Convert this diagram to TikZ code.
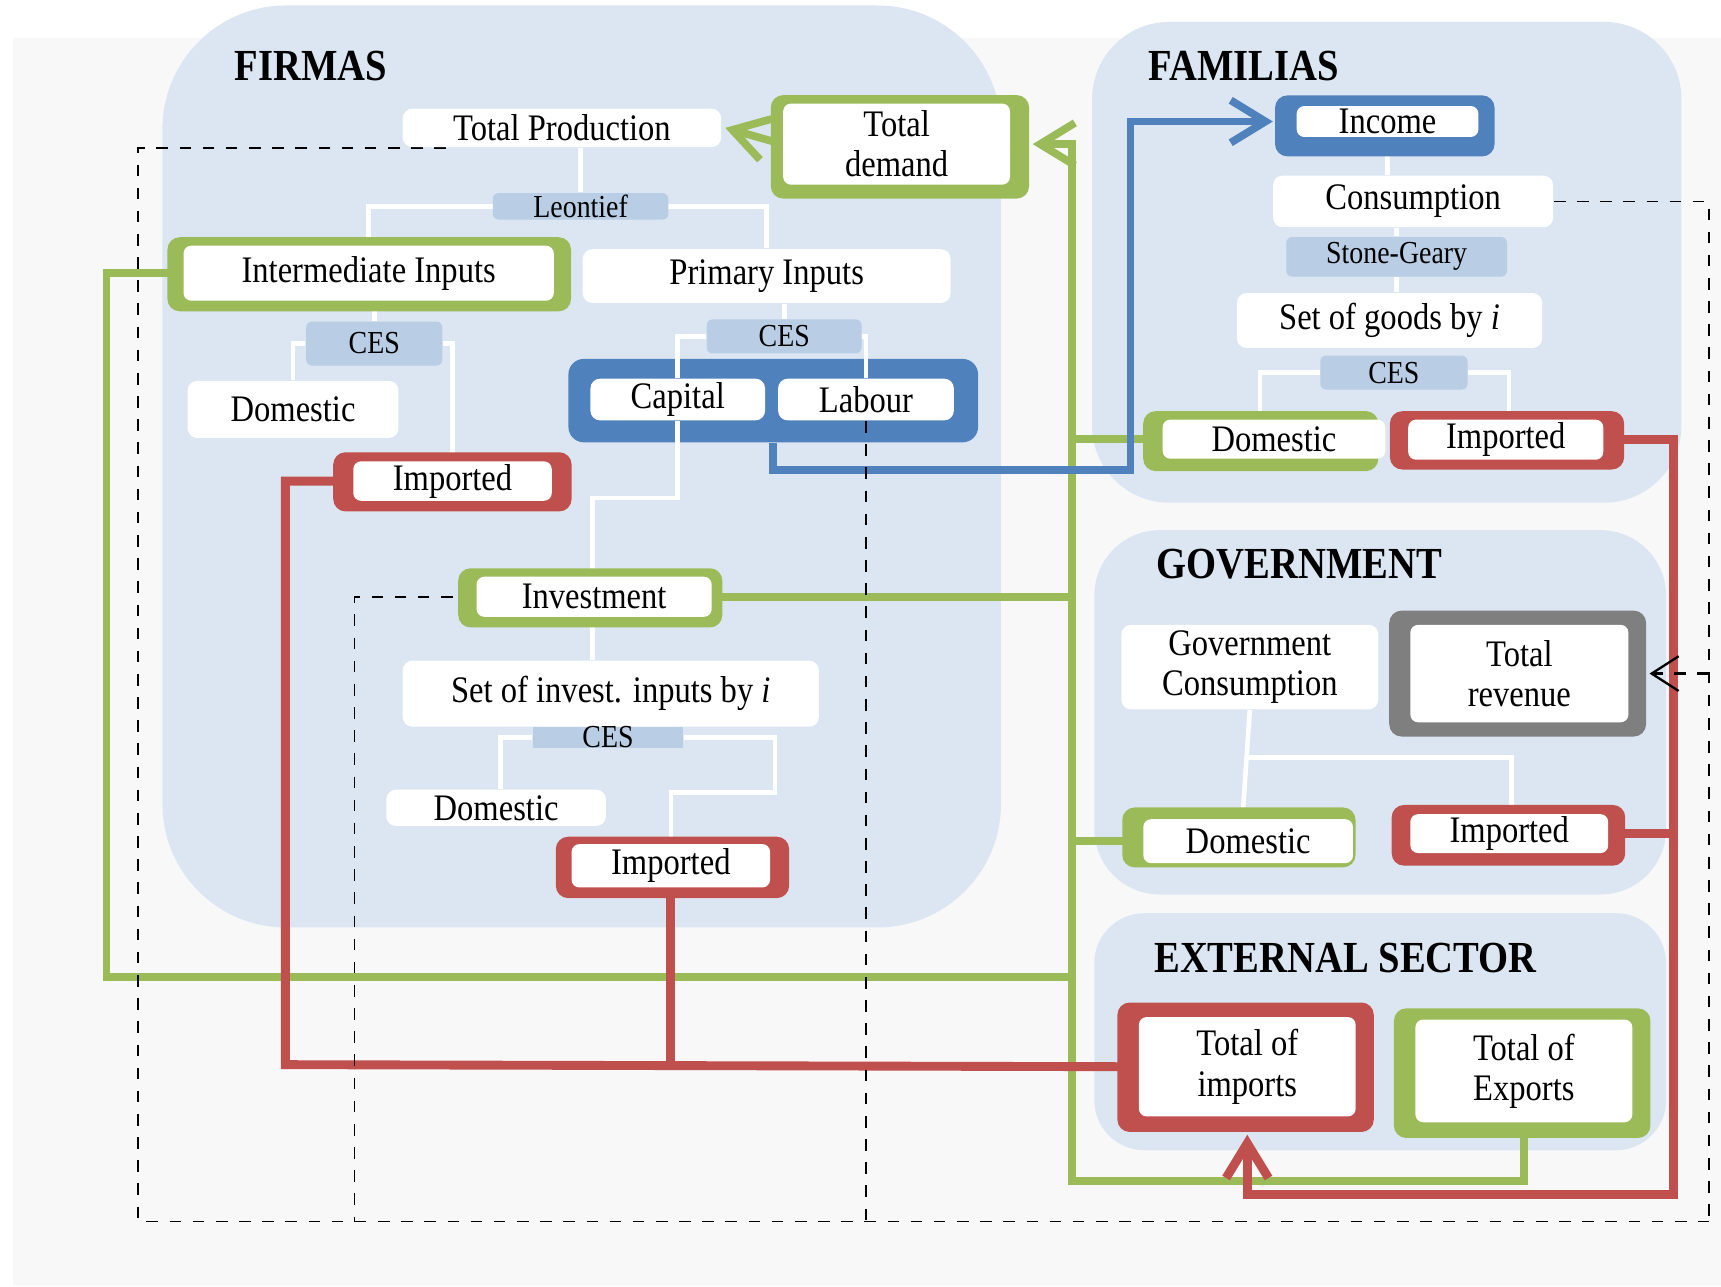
\documentclass[tikz,border=0pt]{standalone}
\usepackage{fontspec}
\setmainfont{Liberation Serif}[FakeStretch=0.87]
\usetikzlibrary{arrows.meta,calc}
\definecolor{panel}{HTML}{DCE6F2}
\definecolor{lblue}{HTML}{B9CDE5}
\definecolor{ogreen}{HTML}{9BBB59}
\definecolor{ored}{HTML}{C0504D}
\definecolor{oblue}{HTML}{4F81BD}
\definecolor{ogray}{HTML}{7F7F7F}
\definecolor{bgray}{HTML}{F8F8F8}
\pgfdeclarelayer{bg}
\pgfdeclarelayer{lines}
\pgfdeclarelayer{frames}
\pgfsetlayers{bg,lines,frames,main}
% coloured frame behind a white node: name, colour, left, top, right, bottom (px)
\newcommand\cfrm[6]{\begin{pgfonlayer}{frames}\fill[#2, rounded corners=3.2pt] ([xshift=-#3*0.01cm, yshift=#4*0.01cm]#1.north west) rectangle ([xshift=#5*0.01cm, yshift=-#6*0.01cm]#1.south east);\end{pgfonlayer}}
\begin{document}
\begin{tikzpicture}[x=0.01cm,y=-0.01cm,
  txtf/.style={font=\fontsize{9.7}{10.4}\selectfont, align=center, inner sep=0pt},
  smallf/.style={font=\fontsize{8.3}{10}\selectfont, inner sep=0pt},
  titlef/.style={font=\fontsize{11.5}{13}\selectfont\bfseries, inner sep=0pt, anchor=west},
  boxplain/.style={txtf, fill=white, rounded corners=2.5pt},
  boxin/.style={txtf, fill=white, rounded corners=2pt},
  boxlb/.style={smallf, fill=lblue, rounded corners=1.5pt},
  wline/.style={draw=white, line width=1.2pt},
  gline/.style={draw=ogreen, line width=2pt},
  rline/.style={draw=ored, line width=2.3pt},
  bline/.style={draw=oblue, line width=2pt},
  dline/.style={draw=black, line width=0.45pt, dashed},
  bigtip/.style={-{Straight Barb[length=9pt,width=11pt]}},
  thintip/.style={-{Straight Barb[length=7pt,width=9pt]}},
]
\useasboundingbox (0,0) rectangle (1568,1172);
\begin{pgfonlayer}{bg}
\fill[white] (0,0) rectangle (1568,1172);
\fill[bgray] (12,35) rectangle (1568,1172);
\fill[panel, rounded corners=32pt] (148,5) rectangle (912,845);
\fill[panel, rounded corners=20pt] (995,20) rectangle (1532,458);
\fill[panel, rounded corners=17pt] (997,483) rectangle (1518,815);
\fill[panel, rounded corners=13pt] (997,832) rectangle (1518,1048);
\node[fill=oblue, rounded corners=4pt, minimum width=3.73cm, minimum height=0.76cm, inner sep=0pt] (factors) at (704.5,365) {};
\end{pgfonlayer}

% titles
\node[titlef] (tF) at (213,60) {FIRMAS};
\node[titlef] (tH) at (1046,60) {FAMILIAS};
\node[titlef] (tG) at (1053,514) {GOVERNMENT};
\node[titlef] (tE) at (1051,873) {EXTERNAL SECTOR};

% FIRMAS
\node[boxplain, minimum width=2.90cm, minimum height=0.35cm] (totprod) at (512,116.5) {Total Production};
\node[boxin, minimum width=2.065cm, minimum height=0.738cm] (totdem) at (816.9,131.3) {Total\\demand};
\cfrm{totdem}{ogreen}{10.6}{7}{16.7}{12}
\node[boxlb, minimum width=1.60cm, minimum height=0.24cm] (leontief) at (529,188) {Leontief};
\node[boxin, minimum width=3.371cm, minimum height=0.501cm] (interm) at (335.9,248.9) {Intermediate Inputs};
\cfrm{interm}{ogreen}{14}{7}{15}{9}
\node[boxplain, minimum width=3.35cm, minimum height=0.49cm] (primary) at (698.5,251.5) {Primary Inputs};
\node[boxlb, minimum width=1.24cm, minimum height=0.40cm] (cesI) at (341,313) {CES};
\node[boxlb, minimum width=1.41cm, minimum height=0.31cm] (cesP) at (714.5,306.5) {CES};
\node[boxplain, minimum width=1.59cm, minimum height=0.38cm] (capital) at (617.5,364) {Capital};
\node[boxplain, minimum width=1.60cm, minimum height=0.38cm] (labour) at (789,364) {Labour};
\node[boxplain, minimum width=1.92cm, minimum height=0.52cm] (domF) at (267,373) {Domestic};
\node[boxin, minimum width=1.807cm, minimum height=0.359cm] (impF) at (412.3,438.3) {Imported};
\cfrm{impF}{ored}{17.6}{7.6}{17.4}{9}
\node[boxin, minimum width=2.141cm, minimum height=0.365cm] (invest) at (541.3,543.7) {Investment};
\cfrm{invest}{ogreen}{16}{7}{9}{9}
\node[boxplain, minimum width=3.79cm, minimum height=0.60cm] (setinv) at (556.5,632) {Set of invest. inputs by \textit{i}};
\node[boxlb, rounded corners=0pt, minimum width=1.37cm, minimum height=0.15cm, text height=1.2ex, text depth=0pt] (cesInv) at (554,671.8) {CES};
\node[boxplain, minimum width=2.00cm, minimum height=0.33cm] (domInv) at (452,736) {Domestic};
\node[boxin, minimum width=1.807cm, minimum height=0.395cm] (impInv) at (611.2,788.8) {Imported};
\cfrm{impInv}{ored}{13.7}{6}{16.7}{9}

% FAMILIAS
\node[boxin, minimum width=1.655cm, minimum height=0.282cm] (income) at (1264.2,110.7) {Income};
\cfrm{income}{oblue}{19}{9}{14}{17}
\node[boxplain, minimum width=2.55cm, minimum height=0.47cm] (consum) at (1287.5,183.5) {Consumption};
\node[boxlb, minimum width=2.01cm, minimum height=0.36cm] (stone) at (1272.5,234) {Stone-Geary};
\node[boxplain, minimum width=2.78cm, minimum height=0.50cm] (setgoods) at (1266,292) {Set of goods by \textit{i}};
\node[boxlb, minimum width=1.34cm, minimum height=0.31cm] (cesF) at (1270,339.5) {CES};
\node[boxin, minimum width=2.027cm, minimum height=0.356cm] (domH) at (1160.7,400.1) {Domestic};
\cfrm{domH}{ogreen}{17}{7}{-7}{10.6}
\node[boxin, minimum width=1.776cm, minimum height=0.365cm] (impH) at (1371.9,400.6) {Imported};
\cfrm{impH}{ored}{16}{7}{18.3}{8.2}

% GOVERNMENT
\node[boxplain, minimum width=2.34cm, minimum height=0.77cm] (govcons) at (1138.7,607.8) {Government\\Consumption};
\node[boxin, minimum width=1.986cm, minimum height=0.887cm] (totrev) at (1384.3,613.7) {Total\\revenue};
\cfrm{totrev}{ogray}{18.5}{12.3}{15.4}{12.3}
\node[boxin, minimum width=1.909cm, minimum height=0.40cm] (domG) at (1137.2,766.4) {Domestic};
\cfrm{domG}{ogreen}{18.5}{10}{1.6}{3.1}
\node[boxin, minimum width=1.802cm, minimum height=0.354cm] (impG) at (1375.1,759.5) {Imported};
\cfrm{impG}{ored}{16.3}{7.7}{14.8}{10.8}

% EXTERNAL SECTOR
\node[boxin, minimum width=1.974cm, minimum height=0.904cm] (totimp) at (1136.4,971.9) {Total of\\imports};
\cfrm{totimp}{ored}{18.9}{12.6}{15.8}{13.5}
\node[boxin, minimum width=1.975cm, minimum height=0.935cm] (totexp) at (1388.4,975.7) {Total of\\Exports};
\cfrm{totexp}{ogreen}{18.9}{9.5}{15.8}{13.6}

\coordinate (gx) at (977,0);
\coordinate (g1) at (977,1076);
\coordinate (g2) at (977,131.3);
\coordinate (r1) at (260,970);
\coordinate (r2) at (1525,1088);
\coordinate (d0) at (126,1113);
\coordinate (d1) at (1557,1113);
\coordinate (dinv) at (323,1113);
\coordinate (dtop) at (1557,613.7);
\coordinate (bturn) at (1030,428);
\coordinate (btop) at (1030,110.7);

\begin{pgfonlayer}{lines}
% white tree connectors
\draw[wline] (totprod.south -| leontief.north) -- (leontief.north);
\draw[wline] (interm.north) |- (leontief.center) -| (primary.north);
\draw[wline] (interm.south -| cesI.north) -- (cesI.north);
\draw[wline] (cesI.west) -| (domF.north);
\draw[wline] (cesI.east) -| (impF.north);
\draw[wline] (primary.south -| cesP.north) -- (cesP.north);
\draw[wline] (cesP.west) -| (capital.north);
\draw[wline] (cesP.east) -| (labour.north);
\draw[wline] (capital.south) -- ++(0,70) -| (invest.north -| 540,0);
\draw[wline] (invest.south -| 540,0) -- (setinv.north -| 540,0);
\draw[wline] (cesInv.west) -| (domInv.north -| 456,0);
\draw[wline] (cesInv.east) -| (706,722) -| (impInv.north);
\draw[wline] (income.south) -- (income.south |- consum.north);
\draw[wline] (consum.south -| stone.north) -- (stone.north);
\draw[wline] (stone.south) -- (stone.south |- setgoods.north);
\draw[wline] (cesF.west) -| (domH.north -| 1148,0);
\draw[wline] (cesF.east) -| (impH.north -| 1375,0);
\draw[wline] (govcons.south) -- (domG.north -| 1132,0);
\draw[wline] (1136,690) -| (impG.north -| 1377,0);

% green flows
\draw[gline] (interm.west) -- (97,248.9) -- (97,890) -- (977,890);
\draw[gline] (invest.east) -- (invest.east -| gx);
\draw[gline] (domH.west) -- (domH.west -| gx);
\draw[gline] (domG.west) -- (domG.west -| gx);
\draw[gline, bigtip] (totexp.south) |- (g1) -- (g2) -- ([xshift=0.2cm]totdem.east);
\draw[gline, bigtip] (totdem.west) -- ([xshift=0.03cm]totprod.east);

% red flows
\draw[rline] (impF.west) -| (r1) -- (totimp.west);
\draw[rline] (impInv.south) -- (impInv.south |- r1);
\draw[rline, bigtip] (impH.east) -| (r2) -| ([yshift=-0.16cm]totimp.south);
\draw[rline] (impG.east) -- (impG.east -| r2);

% blue flow
\draw[bline, bigtip] (factors.south) |- (bturn) -- (btop) -- ([xshift=-0.21cm]income.west);

% dashed flows
\draw[dline] ([xshift=0.4cm]totprod.south west) -| (d0) -- (d1);
\draw[dline] (consum.east) -| (d1);
\draw[dline] (invest.west) -| (dinv);
\draw[dline] (labour.south) -- (labour.south |- d1);
\draw[dline, thintip, line width=0.6pt] (dtop) -- ([xshift=0.185cm]totrev.east);
\end{pgfonlayer}
\end{tikzpicture}
\end{document}
